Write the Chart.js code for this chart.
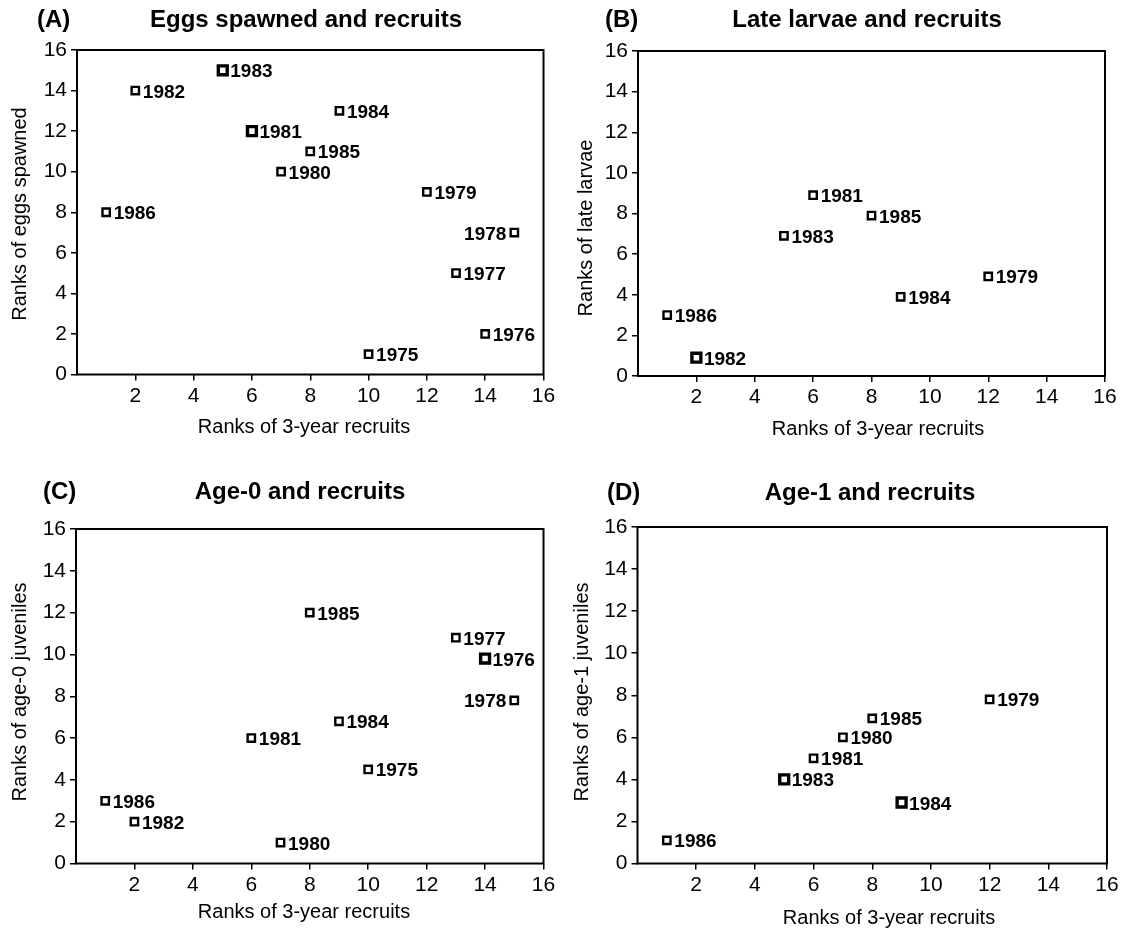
<!DOCTYPE html>
<html>
<head>
<meta charset="utf-8">
<script src="https://cdn.jsdelivr.net/npm/chart.js@4/dist/chart.umd.min.js"></script>
<style>
html,body{margin:0;padding:0;background:#fff;}
#wrap{position:relative;width:1122px;height:931px;background:#fff;}
canvas{position:absolute;}
</style>
</head>
<body>
<div id="wrap">
<canvas id="cA" width="561" height="465" style="left:0;top:0"></canvas>
<canvas id="cB" width="561" height="465" style="left:561px;top:0"></canvas>
<canvas id="cC" width="561" height="466" style="left:0;top:465px"></canvas>
<canvas id="cD" width="561" height="466" style="left:561px;top:465px"></canvas>
</div>
<script>
// ---------- DATA ----------
const xTickValues = [2, 4, 6, 8, 10, 12, 14, 16];

// (A) Eggs spawned and recruits
const yearsA    = ['1986','1982','1983','1981','1984','1985','1980','1979','1978','1977','1976','1975'];
const recruitsA = [1, 2, 5, 6, 9, 8, 7, 12, 15, 13, 14, 10];
const eggsA     = [8, 14, 15, 12, 13, 11, 10, 9, 7, 5, 2, 1];

// (B) Late larvae and recruits
const yearsB    = ['1986','1982','1983','1981','1985','1984','1979'];
const recruitsB = [1, 2, 5, 6, 8, 9, 12];
const larvaeB   = [3, 0.9, 6.9, 8.9, 7.9, 3.9, 4.9];

// (C) Age-0 and recruits
const yearsC    = ['1985','1977','1976','1978','1984','1981','1975','1986','1982','1980'];
const recruitsC = [8, 13, 14, 15, 9, 6, 10, 1, 2, 7];
const age0C     = [12, 10.8, 9.8, 7.8, 6.8, 6, 4.5, 3, 2, 1];

// (D) Age-1 and recruits
const yearsD    = ['1979','1985','1980','1981','1983','1984','1986'];
const recruitsD = [12, 8, 7, 6, 5, 9, 1];
const age1D     = [7.8, 6.9, 6, 5, 4, 2.9, 1.1];

// ---------- STYLE / LAYOUT ----------
const FAM = '"Liberation Sans", Arial, Helvetica, sans-serif';

function makePanel(id, spec) {
  const canvas = document.getElementById(id);
  const W = canvas.width, H = canvas.height;
  const a = spec.area;
  const pts = spec.xs.map((x, i) => ({x: x, y: spec.ys[i]}));
  const heavy = i => spec.heavy.includes(spec.years[i]);

  const textPlugin = {
    id: 'panelText' + id,
    beforeDatasetsDraw(chart) {
      const ctx = chart.ctx, c = chart.chartArea;
      ctx.save();
      ctx.strokeStyle = '#000';
      ctx.lineWidth = 2;
      ctx.strokeRect(c.left, c.top, c.right - c.left, c.bottom - c.top);
      ctx.restore();
    },
    afterDatasetsDraw(chart) {
      const ctx = chart.ctx;
      ctx.save();
      ctx.fillStyle = '#000';
      // year labels
      ctx.font = 'bold 19px ' + FAM;
      ctx.textBaseline = 'alphabetic';
      const meta = chart.getDatasetMeta(0);
      meta.data.forEach((p, i) => {
        const yr = spec.years[i];
        const left = spec.labelLeft.includes(yr);
        ctx.textAlign = left ? 'right' : 'left';
        ctx.fillText(yr, p.x + (left ? -8 : 7.5), p.y + 7);
      });
      // panel letter + title
      ctx.font = 'bold 24px ' + FAM;
      ctx.textBaseline = 'middle';
      ctx.textAlign = 'left';
      ctx.fillText(spec.letter, spec.letterX, spec.titleY);
      ctx.textAlign = 'center';
      ctx.fillText(spec.title, spec.titleX, spec.titleY);
      // axis titles
      ctx.font = '20px ' + FAM;
      ctx.fillText(spec.xTitle, spec.xTitleX, spec.xTitleY);
      ctx.translate(spec.yTitleX, spec.yTitleY);
      ctx.rotate(-Math.PI / 2);
      ctx.fillText(spec.yTitle, 0, 0);
      ctx.restore();
    }
  };

  const tickGrid = {display: true, drawOnChartArea: false, drawTicks: true, tickLength: 6, color: '#000', lineWidth: 1.5};

  return new Chart(canvas, {
    type: 'scatter',
    data: {
      datasets: [{
        data: pts,
        pointStyle: 'rect',
        pointRadius: ctx => heavy(ctx.dataIndex) ? 6.3 : 5.2,
        pointBorderWidth: ctx => heavy(ctx.dataIndex) ? 3.4 : 2.4,
        pointBackgroundColor: '#fff',
        pointBorderColor: '#000',
        showLine: false
      }]
    },
    options: {
      responsive: false,
      animation: false,
      events: [],
      layout: {padding: {left: 0, top: a.top, right: W - a.right, bottom: 0}},
      plugins: {legend: {display: false}, tooltip: {enabled: false}, title: {display: false}},
      scales: {
        x: {
          type: 'linear', min: 0, max: 16,
          afterFit(s) { s.height = H - a.bottom; },
          afterBuildTicks(s) { s.ticks = xTickValues.map(v => ({value: v})); },
          ticks: {color: '#000', font: {family: FAM, size: 21}, padding: 3, maxRotation: 0, autoSkip: false},
          grid: tickGrid,
          border: {display: false}
        },
        y: {
          type: 'linear', min: 0, max: 16,
          afterFit(s) { s.width = a.left; },
          ticks: {stepSize: 2, color: '#000', font: {family: FAM, size: 21}, padding: 4, autoSkip: false},
          grid: tickGrid,
          border: {display: false}
        }
      }
    },
    plugins: [textPlugin]
  });
}

makePanel('cA', {
  years: yearsA, xs: recruitsA, ys: eggsA,
  heavy: ['1983', '1981'], labelLeft: ['1978'],
  area: {left: 77, right: 543.5, top: 50, bottom: 374.5},
  letter: '(A)', letterX: 37, title: 'Eggs spawned and recruits', titleX: 306, titleY: 20,
  xTitle: 'Ranks of 3-year recruits', xTitleX: 304, xTitleY: 427,
  yTitle: 'Ranks of eggs spawned', yTitleX: 20, yTitleY: 214
});
makePanel('cB', {
  years: yearsB, xs: recruitsB, ys: larvaeB,
  heavy: ['1982'], labelLeft: [],
  area: {left: 77, right: 544, top: 51, bottom: 376},
  letter: '(B)', letterX: 44, title: 'Late larvae and recruits', titleX: 306, titleY: 20,
  xTitle: 'Ranks of 3-year recruits', xTitleX: 317, xTitleY: 429,
  yTitle: 'Ranks of late larvae', yTitleX: 25, yTitleY: 228
});
makePanel('cC', {
  years: yearsC, xs: recruitsC, ys: age0C,
  heavy: ['1976'], labelLeft: ['1978'],
  area: {left: 76, right: 543.5, top: 64, bottom: 398.5},
  letter: '(C)', letterX: 43, title: 'Age-0 and recruits', titleX: 300, titleY: 27,
  xTitle: 'Ranks of 3-year recruits', xTitleX: 304, xTitleY: 447,
  yTitle: 'Ranks of age-0 juveniles', yTitleX: 20, yTitleY: 227
});
makePanel('cD', {
  years: yearsD, xs: recruitsD, ys: age1D,
  heavy: ['1983', '1984'], labelLeft: [],
  area: {left: 76.5, right: 546, top: 62, bottom: 398.5},
  letter: '(D)', letterX: 46, title: 'Age-1 and recruits', titleX: 309, titleY: 28,
  xTitle: 'Ranks of 3-year recruits', xTitleX: 328, xTitleY: 453,
  yTitle: 'Ranks of age-1 juveniles', yTitleX: 21.5, yTitleY: 227
});
</script>
</body>
</html>
